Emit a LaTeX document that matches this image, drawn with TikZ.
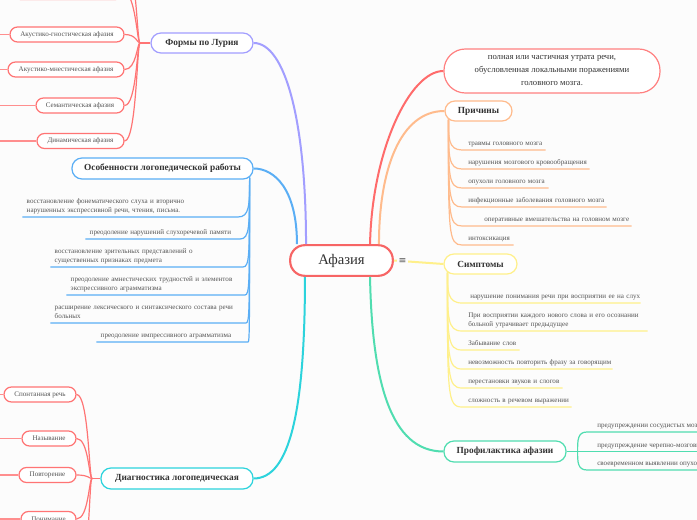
\documentclass[tikz,border=0pt]{standalone}
\usepackage{fontspec}
\setmainfont{Liberation Serif}
\newfontfamily\symfont{DejaVu Sans}
\usetikzlibrary{calc}
\definecolor{bgc}{HTML}{FCFCFC}
\definecolor{txt}{HTML}{333333}
\definecolor{txt2}{HTML}{555555}
\definecolor{cred}{HTML}{F76565}
\definecolor{redl}{HTML}{FF6B6B}
\definecolor{defc}{HTML}{FF8080}
\definecolor{orc}{HTML}{FFBB8C}
\definecolor{yec}{HTML}{FFF08A}
\definecolor{tec}{HTML}{50DDB0}
\definecolor{cyc}{HTML}{2CD3DC}
\definecolor{blc}{HTML}{5AAEF5}
\definecolor{puc}{HTML}{A29EFF}
\definecolor{boxc}{HTML}{FF7474}
\definecolor{lnc}{HTML}{FF8E8E}
\begin{document}
\begin{tikzpicture}[x=0.75pt,y=-0.75pt,
  ctr/.style={draw=cred, line width=1.6pt, fill=white, rounded corners=11pt,
    minimum width=77pt, minimum height=23pt, inner sep=0pt,
    font=\fontsize{11}{13}\selectfont, text=txt},
  mainnode/.style={line width=0.9pt, fill=white, rounded corners=7.5pt,
    minimum height=15pt, inner sep=0pt,
    font=\bfseries\fontsize{7}{8}\selectfont, text=txt},
  boxnode/.style={draw=boxc, line width=0.9pt, fill=white, rounded corners=5.6pt,
    minimum height=11.25pt, inner sep=0pt,
    font=\fontsize{5.3}{6.75}\selectfont, text=txt2},
  itm/.style={inner ysep=1pt, font=\fontsize{5.3}{6.75}\selectfont, text=txt2,
    align=left, execute at begin node=\strut, execute at end node=\strut},
  itR/.style={itm, anchor=south west, inner xsep=4.5pt},
  itL/.style={itm, anchor=south east, inner xsep=3pt},
  itP/.style={itm, anchor=south west, inner xsep=7.5pt},
  mconn/.style={line width=1.5pt},
  cconn/.style={line width=0.9pt},
]
\useasboundingbox (0,0) rectangle (697,520);
\fill[bgc] (0,0) rectangle (697,520);
\clip (0,0) rectangle (697,520);

% ---------- central and main nodes
\node[ctr] (c) at (341.5,260.5) {Афазия};
\node[mainnode, draw=defc, minimum width=162pt, minimum height=33pt, rounded corners=16pt,
  font=\fontsize{6.5}{9.75}\selectfont, align=center] (def) at (552,71)
  {полная или частичная утрата речи,\\обусловленная локальными поражениями\\головного мозга.};
\node[mainnode, draw=orc, minimum width=50.25pt] (pr) at (478.5,111) {Причины};
\node[mainnode, draw=yec, minimum width=54.75pt] (sy) at (480.5,264) {Симптомы};
\node[mainnode, draw=tec, minimum width=91.5pt, minimum height=15.75pt] (pf) at (505,451.5) {Профилактика афазии};
\node[mainnode, draw=puc, minimum width=76.5pt] (fl) at (202,43) {Формы по Лурия};
\node[mainnode, draw=blc, minimum width=135.75pt, minimum height=15.75pt] (os) at (162.5,168.5) {Особенности логопедической работы};
\node[mainnode, draw=cyc, minimum width=114pt, minimum height=15.75pt] (dg) at (177,478.5) {Диагностика логопедическая};

% ---------- main connectors
\draw[mconn, redl] ([xshift=21.4pt]c.north) .. controls (372,150) and (410,71) .. (def.west);
\draw[mconn, orc] ([xshift=28.1pt]c.north) .. controls (379,170) and (400,111) .. (pr.west);
\draw[mconn, puc] ([xshift=-26.6pt]c.north) .. controls (306,120) and (285,43) .. (fl.east);
\draw[mconn, blc] ([xshift=-33.4pt]c.north) .. controls (297,190) and (275,168.5) .. (os.east);
\draw[mconn, cyc] ([xshift=-27.4pt]c.south) .. controls (305,410) and (290,478.5) .. (dg.east);
\draw[mconn, tec] ([xshift=21.4pt]c.south) .. controls (372,380) and (390,451.5) .. (pf.west);
\draw[mconn, yec] (c.east) -- (sy.west);

% ---------- Причины
\coordinate (pt) at ([shift={(3pt,1.5pt)}]pr.south west);
\node[itR, text width=53.25pt] (p1) at (462,150) {\mbox{травмы головного мозга}};
\node[itR, text width=86.25pt] (p2) at (462,169) {\mbox{нарушения мозгового кровообращения}};
\node[itR, text width=55.5pt] (p3) at (462,188) {\mbox{опухоли головного мозга}};
\node[itR, text width=99pt] (p4) at (462,207) {\mbox{инфекционные заболевания головного мозга}};
\node[itR, text width=117.75pt] (p5) at (462,226) {\mbox{\hspace*{12pt}оперативные вмешательства на головном мозге}};
\node[itR, text width=29.25pt] (p6) at (462,245) {\mbox{интоксикация}};
\foreach \n in {p1,p2,p3,p4,p5,p6}
  \draw[cconn, orc] (pt) .. controls ($(pt|-\n.south west)+(0,-12)$) and ($(pt|-\n.south west)$) .. (\n.south west) -- (\n.south east);

% ---------- Симптомы
\coordinate (st) at ([shift={(3pt,1.5pt)}]sy.south west);
\node[itR, text width=124.5pt] (s1) at (462,303) {\mbox{\hspace*{1.5pt}нарушение понимания речи при восприятии ее на слух}};
\node[itR, text width=129.75pt] (s2) at (462,331) {\mbox{При восприятии каждого нового слова и его осознании}\\\mbox{больной утрачивает предыдущее}};
\node[itR, text width=33.75pt] (s3) at (462,350) {\mbox{Забывание слов}};
\node[itR, text width=103.5pt] (s4) at (462,369) {\mbox{невозможность повторить фразу за говорящим}};
\node[itR, text width=66pt] (s5) at (462,388) {\mbox{перестановки звуков и слогов}};
\node[itR, text width=72.75pt] (s6) at (462,407) {\mbox{сложность в речевом выражении}};
\foreach \n in {s1,s2,s3,s4,s5,s6}
  \draw[cconn, yec] (st) .. controls ($(st|-\n.south west)+(0,-12)$) and ($(st|-\n.south west)$) .. (\n.south west) -- (\n.south east);

% ---------- Профилактика
\coordinate (pj) at ([xshift=8.25pt]pf.east);
\node[itP] (f1) at (587,432) {предупреждении сосудистых мозговых заболеваний};
\node[itP] (f2) at (587,451.5) {предупреждение черепно-мозговых травм};
\node[itP] (f3) at (587,470) {своевременном выявлении опухолей мозга};
\draw[cconn, tec] (pf.east) -- (pj);
\draw[cconn, tec] (pj) .. controls ($(pj|-f1.south west)+(0,8)$) and ($(pj|-f1.south west)$) .. (f1.south west) -- (f1.south east);
\draw[cconn, tec] (pj) -- (f2.south west) -- (f2.south east);
\draw[cconn, tec] (pj) .. controls ($(pj|-f3.south west)+(0,-8)$) and ($(pj|-f3.south west)$) .. (f3.south west) -- (f3.south east);

% ---------- Особенности логопедической работы
\coordinate (ot) at ([shift={(-3pt,1.5pt)}]os.south east);
\node[itL, text width=155.25pt] (o1) at (238,217) {\mbox{восстановление фонематического слуха и вторично}\\\mbox{нарушенных экспрессивной речи, чтения, письма.}};
\node[itL, text width=109.5pt] (o2) at (240,239) {\mbox{преодоление нарушений слухоречевой памяти}};
\node[itL, text width=138pt] (o3) at (243,267) {\mbox{восстановление зрительных представлений о}\\\mbox{существенных признаках предмета}};
\node[itL, text width=127.5pt] (o4) at (245,295) {\mbox{преодоление амнестических трудностей и элементов}\\\mbox{экспрессивного аграмматизма}};
\node[itL, text width=140.25pt] (o5) at (246,323) {\mbox{расширение лексического и синтаксического состава речи}\\\mbox{больных}};
\node[itL, text width=107.25pt] (o6) at (248,342) {\mbox{преодоление импрессивного аграмматизма}};
\foreach \n in {o1,o2,o3,o4,o5,o6}
  \draw[cconn, blc] (ot) .. controls ($(ot|-\n.south east)+(0,-12)$) and ($(ot|-\n.south east)$) .. (\n.south east) -- (\n.south west);

% ---------- Формы по Лурия
\coordinate (fj) at (140,43);
\coordinate (ledge) at (-5,0);
\coordinate (lu) at (124,-45);
\node[boxnode, minimum width=82.5pt] (L0) at (68,-8) {};
\node[boxnode, minimum width=85.5pt] (L1) at (67,34.5) {Акустико-гностическая афазия};
\node[boxnode, minimum width=87pt] (L2) at (66,69.5) {Акустико-мнестическая афазия};
\node[boxnode, minimum width=66pt] (L3) at (80,105.5) {Семантическая афазия};
\node[boxnode, minimum width=65.25pt] (L4) at (80.5,141) {Динамическая афазия};
\draw[cconn, boxc] (fl.west) -- (fj);
\foreach \n in {L0,L1,L2,L3,L4}
  \draw[cconn, boxc] (fj) .. controls ($(fj)+(-3,0)$) and ($(\n.east)+(12,0)$) .. (\n.east);
\draw[cconn, boxc] (fj) .. controls ($(fj)+(-3,0)$) and ($(lu)+(12,0)$) .. (lu);
\foreach \n in {L1,L2,L3,L4}
  \draw[cconn, lnc] (\n.west) -- (\n.west -| ledge);

% ---------- Диагностика логопедическая
\coordinate (dj) at (92,478.5);
\coordinate (dd) at (78,570);
\node[boxnode, minimum width=54pt] (D1) at (40,394.5) {Спонтанная речь};
\node[boxnode, minimum width=40.5pt] (D2) at (49,438.5) {Называние};
\node[boxnode, minimum width=42.75pt] (D3) at (47.5,475) {Повторение};
\node[boxnode, minimum width=41.25pt] (D4) at (48.5,519) {Понимание};
\draw[cconn, boxc] (dg.west) -- (dj);
\foreach \n in {D1,D2,D3,D4}
  \draw[cconn, boxc] (dj) .. controls ($(dj)+(-3,0)$) and ($(\n.east)+(12,0)$) .. (\n.east);
\draw[cconn, boxc] (dj) .. controls ($(dj)+(-3,0)$) and ($(dd)+(12,0)$) .. (dd);
\foreach \n in {D1,D2,D3,D4}
  \draw[cconn, lnc] (\n.west) -- (\n.west -| ledge);

% ---------- marker
\node[fill=bgc, inner sep=1pt, text=txt2, font=\symfont\fontsize{7}{8}\selectfont] (eq) at (402.5,261) {≡};
\end{tikzpicture}
\end{document}
